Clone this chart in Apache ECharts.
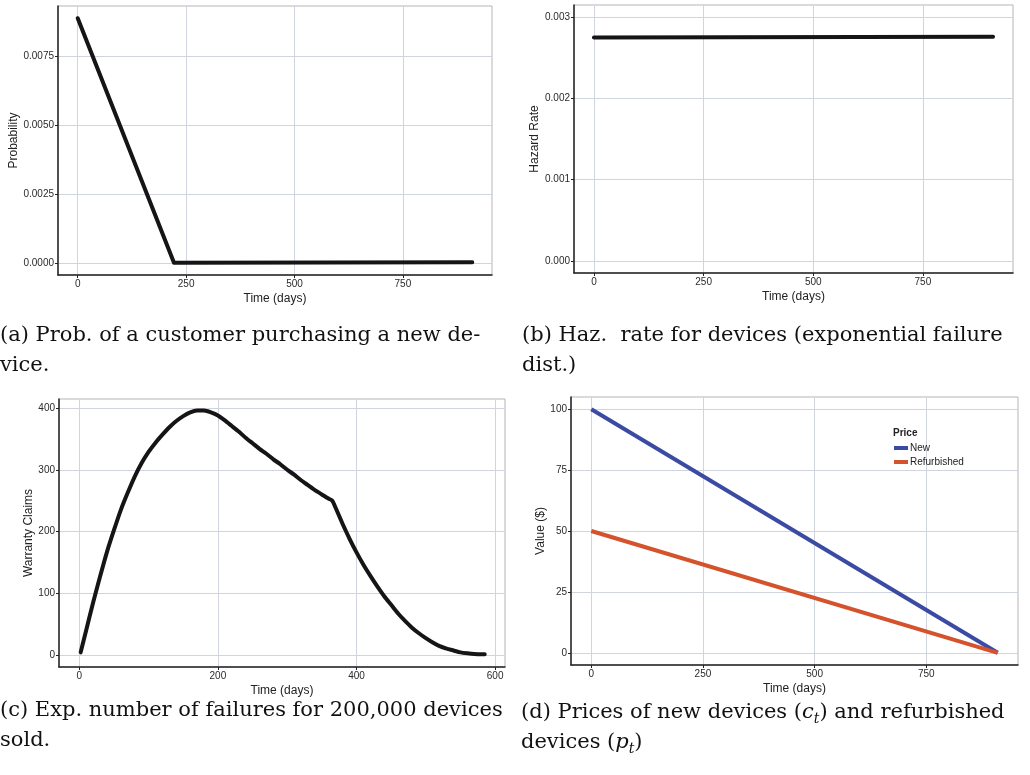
<!DOCTYPE html>
<html>
<head>
<meta charset="utf-8">
<script src="https://cdn.jsdelivr.net/npm/echarts@6/dist/echarts.min.js"></script>
<style>
html,body{margin:0;padding:0;background:#fff;}
#chart{width:1030px;height:775px;}
</style>
</head>
<body>
<div id="chart"></div>
<script>
// ---- Data ----
// (a) probability of a customer purchasing a new device
const daysA = [0, 222, 910];
const probA = [0.0089, 0.0, 0.00002];
// (b) hazard rate (exponential failure dist.)
const daysB = [0, 910];
const hazardB = [0.00275, 0.00276];
// (c) expected number of warranty claims
const daysC = [2, 10, 20, 30, 40, 50, 60, 70, 80, 90, 100, 110, 120, 130, 140, 150, 160, 170, 180,
  190, 200, 210, 220, 230, 240, 250, 260, 270, 280, 290, 300, 310, 320, 330, 340, 350, 360, 365,
  370, 380, 390, 400, 410, 420, 430, 440, 450, 460, 470, 480, 490, 500, 510, 520, 530, 540, 550, 560, 570, 585];
const claimsC = [4, 40, 85, 127, 167, 202, 235, 263, 289, 311, 329, 344, 357, 369, 379, 387, 393, 396, 396,
  393, 388, 380, 371, 362, 352, 343, 334, 326, 317, 309, 300, 292, 283, 275, 267, 260, 253, 250,
  238, 212, 188, 166, 146, 128, 111, 95, 81, 67, 55, 44, 35, 27, 20, 14, 10, 7, 4, 2.5, 1.5, 1];
// (d) prices
const daysD = [0, 910];
const priceNew = [100, 0];
const priceRefurb = [50, 0];
const seriesNamesD = ['New', 'Refurbished'];
const legendTitleD = 'Price';

// tick labels
const ticksX_ABD = [0, 250, 500, 750];
const ticksX_C = [0, 200, 400, 600];
const ticksY_A = [0, 0.0025, 0.005, 0.0075];
const ticksY_B = [0, 0.001, 0.002, 0.003];
const ticksY_C = [0, 100, 200, 300, 400];
const ticksY_D = [0, 25, 50, 75, 100];

const xName = 'Time (days)';
const yNames = ['Probability', 'Hazard Rate', 'Warranty Claims', 'Value ($)'];
const captions = [
  ['(a) Prob. of a customer purchasing a new de-', 'vice.'],
  ['(b) Haz.  rate for devices (exponential failure', 'dist.)'],
  ['(c) Exp. number of failures for 200,000 devices', 'sold.'],
  ['(d) Prices of new devices ({i|c}{s|t}) and refurbished', 'devices ({i|p}{s|t})']
];

const zip = (xs, ys) => xs.map((x, i) => [x, ys[i]]);

const sans = 'Liberation Sans';
const serif = 'DejaVu Serif';
const tickColor = '#2a2a2a';
const gridLineColor = '#d0d4de';

function xAxis(gi, min, max, ticks) {
  return {
    type: 'value', gridIndex: gi, min: min, max: max,
    name: xName, nameLocation: 'middle', nameGap: 18,
    nameTextStyle: {fontFamily: sans, fontSize: 12, color: '#222'},
    axisLine: {show: true, onZero: false, lineStyle: {color: '#222', width: 1.5}},
    axisTick: {show: true, customValues: ticks, length: 3, lineStyle: {color: '#222'}},
    axisLabel: {customValues: ticks, fontFamily: sans, fontSize: 10, color: tickColor, margin: 4},
    splitLine: {show: true, lineStyle: {color: gridLineColor, width: 1}}
  };
}
function yAxis(gi, min, max, ticks, name, gap, fmt) {
  return {
    type: 'value', gridIndex: gi, min: min, max: max,
    name: name, nameLocation: 'middle', nameGap: gap, nameRotate: 90,
    nameTextStyle: {fontFamily: sans, fontSize: 12, color: '#222'},
    axisLine: {show: true, onZero: false, lineStyle: {color: '#222', width: 1.5}},
    axisTick: {show: true, customValues: ticks, length: 3, lineStyle: {color: '#222'}},
    axisLabel: {customValues: ticks, fontFamily: sans, fontSize: 10, color: tickColor, margin: 4, formatter: fmt},
    splitLine: {show: true, lineStyle: {color: gridLineColor, width: 1}}
  };
}

const gridBase = {show: true, borderColor: '#b5b5b5', borderWidth: 1, containLabel: false, outerBoundsMode: 'none'};

const capFont = 21;
const capStyle = {fontFamily: serif, fontSize: capFont, fontWeight: 'normal', color: '#111',
  rich: {
    i: {fontFamily: serif, fontStyle: 'italic', fontSize: capFont, color: '#111', lineHeight: 26},
    s: {fontFamily: serif, fontStyle: 'italic', fontSize: 14, color: '#111', lineHeight: 14, verticalAlign: 'bottom'}
  }
};
const capPos = [[0, 325], [0, 355], [522, 325], [522, 355], [0, 700], [0, 730], [521, 700], [521, 730]];
const titles = [];
captions.forEach((pair, k) => {
  pair.forEach((t, j) => {
    const p = capPos[k * 2 + j];
    titles.push({text: t, left: p[0], top: p[1], padding: 0, textStyle: capStyle});
  });
});
titles.push({text: legendTitleD, left: 893, top: 428, padding: 0,
  textStyle: {fontFamily: sans, fontSize: 10, fontWeight: 'bold', color: '#222'}});

const lineBlack = {color: '#151515', width: 4, cap: 'round', join: 'round'};

const option = {
  backgroundColor: '#fff',
  animation: false,
  title: titles,
  grid: [
    Object.assign({left: 58, top: 6, width: 434, height: 269}, gridBase),
    Object.assign({left: 574, top: 5, width: 439, height: 268}, gridBase),
    Object.assign({left: 59, top: 399, width: 446, height: 268}, gridBase),
    Object.assign({left: 571, top: 397, width: 447, height: 268}, gridBase)
  ],
  xAxis: [
    xAxis(0, -45.5, 955.5, ticksX_ABD),
    xAxis(1, -45.5, 955.5, ticksX_ABD),
    xAxis(2, -29.25, 614.25, ticksX_C),
    xAxis(3, -45.5, 955.5, ticksX_ABD)
  ],
  yAxis: [
    yAxis(0, -0.000445, 0.009345, ticksY_A, yNames[0], 36, v => v.toFixed(4)),
    yAxis(1, -0.00015, 0.00315, ticksY_B, yNames[1], 30, v => v.toFixed(3)),
    yAxis(2, -19.75, 414.75, ticksY_C, yNames[2], 23, v => String(v)),
    yAxis(3, -5, 105, ticksY_D, yNames[3], 22, v => String(v))
  ],
  legend: {
    data: seriesNamesD, orient: 'vertical', left: 894, top: 443, padding: 0,
    itemGap: 4, itemWidth: 14, itemHeight: 4, icon: 'rect',
    textStyle: {fontFamily: sans, fontSize: 10, color: '#222', padding: [0, 0, 0, -3]}
  },
  series: [
    {type: 'line', xAxisIndex: 0, yAxisIndex: 0, data: zip(daysA, probA), showSymbol: false, lineStyle: lineBlack, z: 5},
    {type: 'line', xAxisIndex: 1, yAxisIndex: 1, data: zip(daysB, hazardB), showSymbol: false, lineStyle: lineBlack, z: 5},
    {type: 'line', xAxisIndex: 2, yAxisIndex: 2, data: zip(daysC, claimsC), showSymbol: false, smooth: 0.2, lineStyle: lineBlack, z: 5},
    {name: seriesNamesD[0], type: 'line', xAxisIndex: 3, yAxisIndex: 3, data: zip(daysD, priceNew), showSymbol: false,
      color: '#3b4aa3', lineStyle: {color: '#3b4aa3', width: 4}, z: 5},
    {name: seriesNamesD[1], type: 'line', xAxisIndex: 3, yAxisIndex: 3, data: zip(daysD, priceRefurb), showSymbol: false,
      color: '#d4532c', lineStyle: {color: '#d4532c', width: 4}, z: 5}
  ]
};

const chart = echarts.init(document.getElementById('chart'), null, {renderer: 'canvas'});
chart.setOption(option);
</script>
</body>
</html>
